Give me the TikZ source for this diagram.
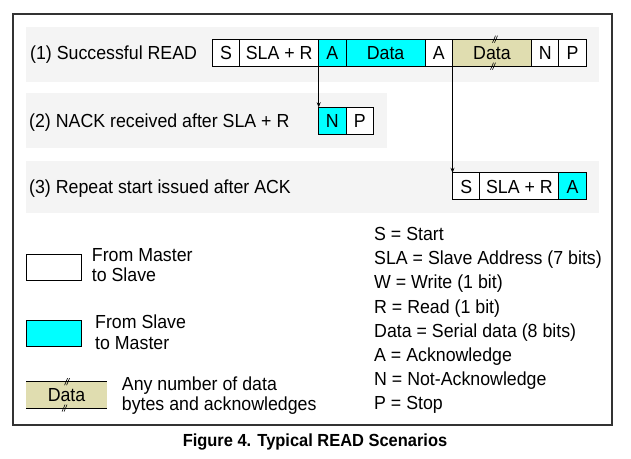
\documentclass[tikz,border=0pt]{standalone}
\usepackage{fontspec}
\setmainfont{Liberation Sans}[FakeStretch=0.94]
\usetikzlibrary{positioning,arrows.meta}
\definecolor{cyanbox}{HTML}{00FFFF}
\definecolor{tanbox}{HTML}{E0DDB0}
\definecolor{bandgray}{HTML}{F4F4F4}
\definecolor{framegray}{HTML}{333333}
\begin{document}
\begin{tikzpicture}[x=1pt,y=-1pt,
  font=\fontsize{18.9}{20}\selectfont,
  fld/.style={draw=black, line width=1.1pt, inner sep=0pt, outer sep=0pt, minimum height=27pt, fill=white, text height=13.5pt, text depth=0pt},
  sm/.style={fld, minimum width=27.4pt},
  lg/.style={fld, minimum width=79pt},
  sl/.style={fill=cyanbox},
  dat/.style={fill=tanbox},
  lbl/.style={inner sep=0pt, anchor=west, text height=13.5pt, text depth=0pt},
  conn/.style={line width=0.9pt, -{Stealth[length=5pt,width=4pt]}},
  band/.style={fill=bandgray, draw=none},
  brk/.pic={\draw[line width=0.6pt, black] (-2.5,3.5)--(0.5,-3.5) (-0.5,3.5)--(2.5,-3.5);}
]
\useasboundingbox[fill=white] (0,0) rectangle (631,458);
% bands
\path[band] (26,27) rectangle (599,82);
\path[band] (26,93) rectangle (387,148);
\path[band] (26,161) rectangle (599,213);
% frame
\draw[framegray, line width=1.6pt] (13,14) rectangle (612,425);
% row 1
\node[lbl] (l1) at (30,52.7) {(1) Successful READ};
\node[sm, anchor=west] (s1) at (212.3,52.7) {S};
\node[lg, right=0pt of s1] (sla1) {SLA + R};
\node[sm, sl, right=0pt of sla1] (a1) {A};
\node[lg, sl, right=0pt of a1] (d1) {Data};
\node[sm, right=0pt of d1] (a2) {A};
\node[lg, dat, right=0pt of a2] (d2) {Data};
\node[sm, right=0pt of d2] (n1) {N};
\node[sm, right=0pt of n1] (p1) {P};
\pic at ([xshift=3pt]d2.north) {brk};
\pic at ([xshift=1pt]d2.south) {brk};
% row 2
\node[lbl] (l2) at (29,120.8) {(2) NACK received after SLA + R};
\node[sm, sl, anchor=west] (n2) at (318.7,120.8) {N};
\node[sm, right=0pt of n2] (p2) {P};
% row 3
\node[lbl] (l3) at (29,186.3) {(3) Repeat start issued after ACK};
\node[sm, anchor=west] (s3) at (452.5,186.3) {S};
\node[lg, right=0pt of s3] (sla3) {SLA + R};
\node[sm, sl, right=0pt of sla3] (a3) {A};
% connectors
\draw[conn] (a1.south west) -- (n2.north west);
\draw[conn] (a2.south east) -- (s3.north west);
% legend left
\node[draw, line width=1.1pt, minimum width=55pt, minimum height=26pt, inner sep=0pt, anchor=north west] (lw) at (26,254) {};
\node[lbl] (lw1) at (91.7,255) {From Master};
\node[lbl] (lw2) at (91.7,275) {to Slave};
\node[draw, fill=cyanbox, line width=1.1pt, minimum width=55pt, minimum height=26pt, inner sep=0pt, anchor=north west] (lc) at (26,320) {};
\node[lbl] (lc1) at (95,322) {From Slave};
\node[lbl] (lc2) at (95,343) {to Master};
\node[fill=tanbox, minimum width=80.7pt, minimum height=26pt, inner sep=0pt, anchor=north west, text height=13.5pt, text depth=0pt] (lt) at (26,381.7) {Data};
\draw[line width=1.1pt] (lt.north west) -- (lt.north east) (lt.south west) -- (lt.south east);
\pic at ([xshift=0.5pt]lt.north) {brk};
\pic at ([xshift=-2pt]lt.south) {brk};
\node[lbl] (lt1) at (121.7,384) {Any number of data};
\node[lbl] (lt2) at (121.7,404) {bytes and acknowledges};
% legend right
\node[lbl] (k1) at (374,234) {S = Start};
\node[lbl] (k2) at (374,258.1) {SLA = Slave Address (7 bits)};
\node[lbl] (k3) at (374,282.2) {W = Write (1 bit)};
\node[lbl] (k4) at (374,306.3) {R = Read (1 bit)};
\node[lbl] (k5) at (374,330.4) {Data = Serial data (8 bits)};
\node[lbl] (k6) at (374,354.5) {A = Acknowledge};
\node[lbl] (k7) at (374,378.6) {N = Not-Acknowledge};
\node[lbl] (k8) at (374,402.7) {P = Stop};
% caption
\node[font=\bfseries\fontsize{17.5}{19}\selectfont, text height=12.5pt, text depth=0pt, inner sep=0pt] (cap) at (315,440) {Figure 4. Typical READ Scenarios};
\end{tikzpicture}
\end{document}
